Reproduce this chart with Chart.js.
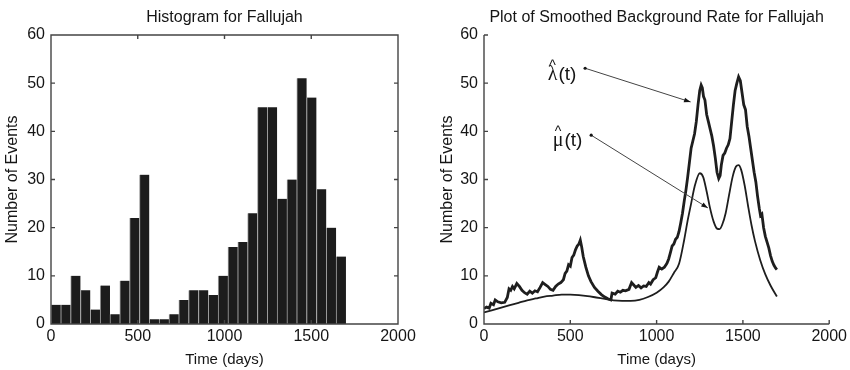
<!DOCTYPE html>
<html>
<head>
<meta charset="utf-8">
<script src="https://cdn.jsdelivr.net/npm/chart.js@4"></script>
<style>
  body { margin: 0; background: #fff; }
  #wrap { position: relative; width: 850px; height: 370px; }
  canvas { position: absolute; top: 0; }
  #hist { left: 0; }
  #rate { left: 425px; }
</style>
</head>
<body>
<div id="wrap">
  <canvas id="hist" width="425" height="370"></canvas>
  <canvas id="rate" width="425" height="370"></canvas>
</div>
<script>
// Histogram: 30 equal bins covering days 0..1700
const histCounts = [4, 4, 10, 7, 3, 8, 2, 9, 22, 31, 1, 1, 2, 5, 7, 7, 6, 10, 16, 17, 23, 45, 45, 26, 30, 51, 47, 28, 20, 14];
const histEnd = 1700;

// lambda-hat(t): full intensity (jumpy)
const lambdaT = [0, 15, 30, 40, 55, 65, 80, 100, 120, 135, 145, 155, 165, 175, 190, 205, 220, 235, 250, 265,
  280, 295, 310, 325, 340, 355, 370, 385, 400, 415, 430, 445, 460, 470, 480, 490, 500, 510, 520, 530,
  540, 550, 558, 566, 575, 590, 605, 620, 640, 660, 680, 700, 720, 735, 742, 760, 775, 790, 805, 820,
  840, 855, 865, 880, 895, 910, 925, 940, 955, 965, 980, 995, 1005, 1015, 1030, 1045, 1060, 1070, 1080, 1090,
  1100, 1110, 1120, 1130, 1140, 1150, 1160, 1170, 1180, 1190, 1200, 1210, 1220, 1230, 1240, 1250, 1258, 1265, 1272, 1280,
  1290, 1300, 1310, 1320, 1330, 1340, 1350, 1360, 1368, 1375, 1385, 1395, 1405, 1415, 1425, 1435, 1445, 1455, 1465, 1475,
  1485, 1495, 1505, 1515, 1525, 1535, 1545, 1555, 1565, 1575, 1585, 1595, 1602, 1610, 1620, 1630, 1640, 1650, 1660, 1670,
  1680, 1690, 1697];
const lambdaV = [3.2, 3.5, 3.3, 4.3, 4.0, 5.0, 4.6, 4.4, 4.5, 5.5, 7.3, 7.0, 7.8, 7.3, 8.4, 7.8, 7.0, 6.5, 6.2, 6.8,
  6.4, 6.9, 6.7, 7.6, 8.6, 8.2, 7.8, 7.2, 7.0, 7.8, 8.3, 8.6, 9.2, 10.5, 11.0, 12.3, 12.0, 13.8, 14.3, 15.4,
  16.2, 16.6, 17.4, 16.0, 14.0, 11.8, 10.0, 8.8, 7.6, 6.8, 6.1, 5.6, 5.2, 5.0, 6.4, 6.2, 6.8, 6.6, 7.0, 6.9,
  7.2, 8.6, 8.2, 7.6, 8.0, 7.5, 7.9, 7.8, 8.6, 8.3, 9.2, 9.6, 10.8, 11.8, 11.4, 11.8, 12.6, 13.5, 14.8, 16.2,
  16.6, 17.6, 18.0, 19.2, 21.0, 23.0, 25.5, 27.8, 30.5, 33.5, 36.5, 38.0, 39.5, 42.0, 45.5, 48.5, 49.6, 49.0, 47.2, 46.5,
  43.5, 42.0, 40.5, 39.0, 37.0, 34.5, 31.5, 30.2, 30.8, 33.0, 35.0, 35.5, 36.5, 37.2, 38.5, 42.0, 45.5, 48.5, 50.0, 51.3,
  50.5, 48.0, 45.5, 44.5, 41.0, 39.0, 36.5, 34.0, 31.5, 29.5, 26.5, 24.0, 22.5, 22.8, 20.0, 18.2, 17.0, 15.8, 14.2, 13.0,
  12.2, 11.6, 11.3];

// mu-hat(t): smoothed background rate
const muT = [0, 50, 100, 150, 200, 250, 300, 350, 400, 450, 500, 550, 600, 650, 700, 750, 800, 850, 900, 950,
  1000, 1040, 1070, 1100, 1130, 1160, 1180, 1200, 1220, 1250, 1270, 1290, 1310, 1330, 1350, 1365, 1380, 1400, 1420, 1440,
  1460, 1475, 1490, 1510, 1530, 1550, 1570, 1600, 1630, 1660, 1697];
const muV = [2.4, 2.9, 3.4, 3.9, 4.4, 4.9, 5.3, 5.7, 5.9, 6.1, 6.1, 6.0, 5.8, 5.5, 5.2, 4.9, 4.8, 4.8, 5.0, 5.6,
  6.5, 7.6, 8.8, 10.6, 12.5, 17.5, 21.5, 25.0, 28.5, 31.3, 30.5, 27.5, 24.0, 21.3, 19.8, 19.7, 20.6, 23.0, 26.8, 30.5,
  32.7, 33.0, 32.0, 28.8, 24.5, 20.5, 17.2, 13.3, 10.3, 8.0, 5.7];

const xTickStep = 500;
const yTickStep = 10;

Chart.defaults.font.family = '"Liberation Sans", Arial, sans-serif';
Chart.defaults.color = '#151515';

const ink = '#151515';

// MATLAB-ish axes: frame (box or L-shape) and inward tick marks
const frame = {
  id: 'frame',
  afterDraw(chart, args, opts) {
    const { ctx, chartArea: a, scales: { x, y } } = chart;
    const len = 4;
    ctx.save();
    ctx.strokeStyle = '#444';
    ctx.lineWidth = 1.4;
    ctx.beginPath();
    if (opts.box) {
      ctx.rect(a.left, a.top, a.right - a.left, a.bottom - a.top);
    } else {
      ctx.moveTo(a.left, a.top);
      ctx.lineTo(a.left, a.bottom);
      ctx.lineTo(a.right, a.bottom);
    }
    x.ticks.forEach((t) => {
      const px = x.getPixelForValue(t.value);
      ctx.moveTo(px, a.bottom);
      ctx.lineTo(px, a.bottom - len);
      if (opts.box) { ctx.moveTo(px, a.top); ctx.lineTo(px, a.top + len); }
    });
    y.ticks.forEach((t) => {
      const py = y.getPixelForValue(t.value);
      ctx.moveTo(a.left, py);
      ctx.lineTo(a.left + len, py);
      if (opts.box) { ctx.moveTo(a.right, py); ctx.lineTo(a.right - len, py); }
    });
    ctx.stroke();
    ctx.restore();
  }
};

// title centred over the plot area
const heading = {
  id: 'heading',
  afterDraw(chart, args, opts) {
    const { ctx, chartArea: a } = chart;
    ctx.save();
    ctx.font = '16px "Liberation Sans", Arial, sans-serif';
    ctx.fillStyle = ink;
    ctx.textAlign = 'center';
    ctx.textBaseline = 'middle';
    ctx.fillText(opts.text, (a.left + a.right) / 2, 18);
    ctx.restore();
  }
};

// labelled arrows on the rate plot (positions in data units)
const arrowNotes = [
  { sym: 'λ', label: [369, 50.7], from: [586, 53.1], to: [1197, 46.1] },
  { sym: 'μ', label: [398, 36.9], from: [621, 39.2], to: [1297, 24.1] }
];

const notes = {
  id: 'notes',
  afterDatasetsDraw(chart) {
    const { ctx, scales: { x, y } } = chart;
    ctx.save();
    ctx.fillStyle = ink;
    ctx.strokeStyle = '#444';
    arrowNotes.forEach((n) => {
      const lx = x.getPixelForValue(n.label[0]);
      const ly = y.getPixelForValue(n.label[1]);
      ctx.font = '20px "Liberation Serif", "DejaVu Serif", serif';
      ctx.textAlign = 'left';
      ctx.textBaseline = 'alphabetic';
      ctx.fillText(n.sym, lx, ly);
      const sw = ctx.measureText(n.sym).width;
      ctx.font = '19px "Liberation Sans", Arial, sans-serif';
      ctx.fillText('(t)', lx + sw + 1, ly);
      ctx.font = '14px "Liberation Sans", Arial, sans-serif';
      ctx.textAlign = 'center';
      ctx.fillText('^', lx + sw / 2, ly - 10);

      const x0 = x.getPixelForValue(n.from[0]), y0 = y.getPixelForValue(n.from[1]);
      const x1 = x.getPixelForValue(n.to[0]), y1 = y.getPixelForValue(n.to[1]);
      ctx.lineWidth = 1;
      ctx.beginPath();
      ctx.moveTo(x0, y0);
      ctx.lineTo(x1, y1);
      ctx.stroke();
      ctx.beginPath();
      ctx.arc(x0, y0, 1.6, 0, Math.PI * 2);
      ctx.fill();
      const ang = Math.atan2(y1 - y0, x1 - x0);
      const hl = 7, hw = 0.35;
      ctx.beginPath();
      ctx.moveTo(x1, y1);
      ctx.lineTo(x1 - hl * Math.cos(ang - hw), y1 - hl * Math.sin(ang - hw));
      ctx.lineTo(x1 - hl * Math.cos(ang + hw), y1 - hl * Math.sin(ang + hw));
      ctx.closePath();
      ctx.fill();
    });
    ctx.restore();
  }
};

function axes(yWidth, yTitlePad) {
  return {
    x: {
      type: 'linear', min: 0, max: 2000, offset: false,
      grid: { display: false, drawTicks: false }, border: { display: false },
      ticks: { stepSize: xTickStep, padding: 3, font: { size: 16 }, maxRotation: 0, autoSkip: false,
               callback: (v) => String(v) },
      title: { display: true, text: 'Time (days)', font: { size: 15 }, padding: { top: 0, bottom: 1 } },
      afterFit: (s) => { s.height = 46; }
    },
    y: {
      type: 'linear', min: 0, max: 60,
      grid: { display: false, drawTicks: false }, border: { display: false },
      ticks: { stepSize: yTickStep, padding: 6, font: { size: 16 }, callback: (v) => String(v) },
      title: { display: true, text: 'Number of Events', font: { size: 16 }, padding: { top: yTitlePad, bottom: 0 } },
      afterFit: (s) => { s.width = yWidth; }
    }
  };
}

const binW = histEnd / histCounts.length;

new Chart(document.getElementById('hist'), {
  type: 'bar',
  data: {
    datasets: [{
      data: histCounts.map((c, i) => ({ x: (i + 0.5) * binW, y: c })),
      backgroundColor: '#1c1c1c',
      borderColor: '#a0a0a0',
      borderWidth: { left: 1, right: 0, top: 0, bottom: 0 },
      borderSkipped: false,
      categoryPercentage: 1,
      barPercentage: 1
    }]
  },
  options: {
    responsive: false,
    animation: false,
    layout: { padding: { top: 35, right: 27, left: 0, bottom: 0 } },
    scales: axes(51, 3),
    plugins: {
      legend: { display: false }, tooltip: { enabled: false },
      frame: { box: true },
      heading: { text: 'Histogram for Fallujah' }
    }
  },
  plugins: [frame, heading]
});

new Chart(document.getElementById('rate'), {
  type: 'line',
  data: {
    datasets: [
      {
        label: 'lambda',
        data: lambdaT.map((t, i) => ({ x: t, y: lambdaV[i] })),
        borderColor: '#1e1e1e', borderWidth: 2.8, pointRadius: 0, tension: 0
      },
      {
        label: 'mu',
        data: muT.map((t, i) => ({ x: t, y: muV[i] })),
        borderColor: '#1e1e1e', borderWidth: 1.8, pointRadius: 0, cubicInterpolationMode: 'monotone'
      }
    ]
  },
  options: {
    responsive: false,
    animation: false,
    layout: { padding: { top: 35, right: 17, left: 0, bottom: 0 } },
    scales: axes(59, 13),
    plugins: {
      legend: { display: false }, tooltip: { enabled: false },
      frame: { box: false },
      heading: { text: 'Plot of Smoothed Background Rate for Fallujah' }
    }
  },
  plugins: [frame, heading, notes]
});
</script>
</body>
</html>
